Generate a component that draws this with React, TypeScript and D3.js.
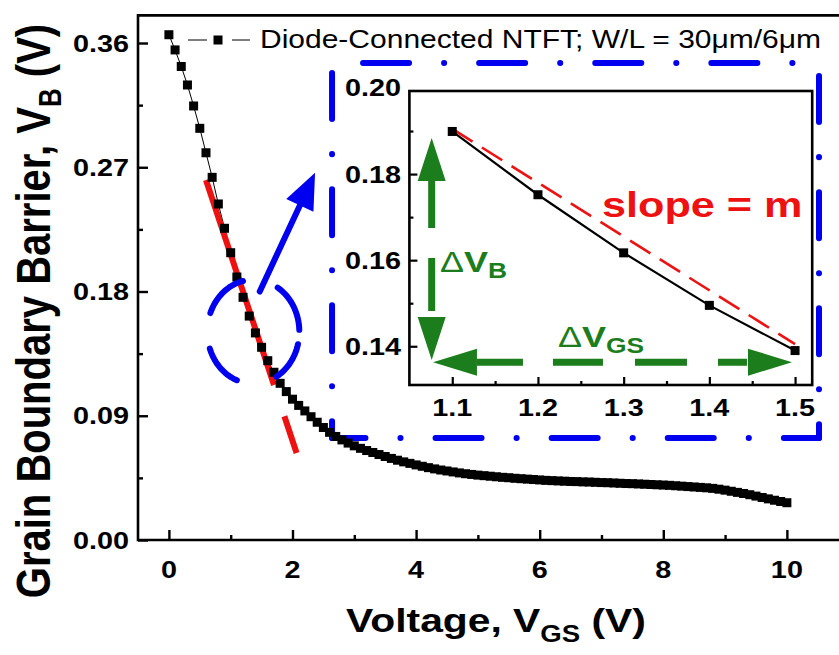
import { useRef, useEffect } from 'react';
import * as d3 from 'd3';

const W = 839;
const H = 655;
const FONT = '"Liberation Sans", Arial, Helvetica, sans-serif';
const SX = 1.2; // the source glyphs are stretched sideways
const BLUE = '#0000f0';
const RED = '#ee1111';
const GREEN = '#1b7d1b';

// gate sweep, V_GS (V)
const VGS = [
  0, 0.1, 0.2, 0.3, 0.4, 0.5, 0.6, 0.7, 0.8, 0.9,
  1.0, 1.1, 1.2, 1.3, 1.4, 1.5, 1.6, 1.7, 1.8, 1.9,
  2.0, 2.1, 2.2, 2.3, 2.4, 2.5, 2.6, 2.7, 2.8, 2.9,
  3.0, 3.1, 3.2, 3.3, 3.4, 3.5, 3.6, 3.7, 3.8, 3.9,
  4.0, 4.1, 4.2, 4.3, 4.4, 4.5, 4.6, 4.7, 4.8, 4.9,
  5.0, 5.1, 5.2, 5.3, 5.4, 5.5, 5.6, 5.7, 5.8, 5.9,
  6.0, 6.1, 6.2, 6.3, 6.4, 6.5, 6.6, 6.7, 6.8, 6.9,
  7.0, 7.1, 7.2, 7.3, 7.4, 7.5, 7.6, 7.7, 7.8, 7.9,
  8.0, 8.1, 8.2, 8.3, 8.4, 8.5, 8.6, 8.7, 8.8, 8.9,
  9.0, 9.1, 9.2, 9.3, 9.4, 9.5, 9.6, 9.7, 9.8, 9.9,
  10.0,
];

// grain boundary barrier, V_B (V)
const VB = [
  0.366, 0.355, 0.343, 0.3296, 0.3144, 0.2982, 0.2805, 0.2627, 0.2434, 0.2258,
  0.2081, 0.1905, 0.1758, 0.1622, 0.15, 0.1396, 0.1299, 0.1215, 0.1135, 0.1075,
  0.102, 0.0975, 0.0935, 0.0893, 0.0853, 0.0815, 0.078, 0.075, 0.0725, 0.0702,
  0.0682, 0.0664, 0.0648, 0.0634, 0.0619, 0.0605, 0.0591, 0.0578, 0.0566, 0.0555,
  0.0544, 0.0534, 0.0524, 0.0515, 0.0507, 0.05, 0.0493, 0.0486, 0.048, 0.0475,
  0.047, 0.0466, 0.0462, 0.0458, 0.0454, 0.0451, 0.0447, 0.0444, 0.0441, 0.0438,
  0.0435, 0.0432, 0.043, 0.0428, 0.0426, 0.0424, 0.0423, 0.0421, 0.042, 0.0418,
  0.0416, 0.0415, 0.0413, 0.0411, 0.0409, 0.0408, 0.0406, 0.0404, 0.0402, 0.04,
  0.0398, 0.0396, 0.0393, 0.039, 0.0387, 0.0384, 0.0381, 0.0378, 0.0374, 0.0368,
  0.0361, 0.0353, 0.0345, 0.0337, 0.0328, 0.0318, 0.0308, 0.0298, 0.0288, 0.0279,
  0.027,
];

const X_MAJOR = [0, 2, 4, 6, 8, 10];
const X_MINOR = [1, 3, 5, 7, 9];
const Y_MAJOR = [0, 0.09, 0.18, 0.27, 0.36];
const Y_MINOR = [0.045, 0.135, 0.225, 0.315];

const INSET_VGS = [1.1, 1.2, 1.3, 1.4, 1.5];
const INSET_VB = [0.1899, 0.1752, 0.1617, 0.1495, 0.139];
const INSET_X_MAJOR = [1.1, 1.2, 1.3, 1.4, 1.5];
const INSET_X_MINOR = [1.15, 1.25, 1.35, 1.45];
const INSET_Y_MAJOR = [0.14, 0.16, 0.18];
const INSET_Y_LABELS = [0.14, 0.16, 0.18, 0.2];
const INSET_Y_MINOR = [0.15, 0.17, 0.19];

// linear fits (V_GS, V_B)
const FIT_MAIN = [[0.6, 0.2608], [2.066, 0.063]];
const FIT_INSET = [[1.1, 0.1905], [1.5, 0.1405]];

// annotations, in data units
const ZOOM_BOX = { v0: 2.64, v1: 10.52, b0: 0.0739, b1: 0.3455 };
const ZOOM_RING = { v: 1.366, b: 0.1509 };
const ZOOM_ARROW = [[1.47, 0.18], [2.365, 0.266]];
const DVB_ARROW = { v: 1.076, b0: 0.1884, b1: 0.1368 };
const DVGS_ARROW = { b: 0.1363, v0: 1.0775, v1: 1.4964 };

function label(g, x, y, size, weight, anchor, fill = '#000', extra = '') {
  return g.append('text')
    .attr('transform', `translate(${x},${y}) scale(${SX},1)${extra}`)
    .attr('font-family', FONT)
    .attr('font-size', size)
    .attr('font-weight', weight)
    .attr('text-anchor', anchor)
    .attr('fill', fill);
}

function arrow(g, x1, y1, x2, y2, o) {
  const L = Math.hypot(x2 - x1, y2 - y1);
  const ux = (x2 - x1) / L, uy = (y2 - y1) / L;
  const nx = -uy, ny = ux;
  const s = o.startHead ? o.head : 0;
  g.append('line')
    .attr('x1', x1 + ux * s).attr('y1', y1 + uy * s)
    .attr('x2', x2 - ux * o.head).attr('y2', y2 - uy * o.head)
    .attr('stroke', o.color).attr('stroke-width', o.width)
    .attr('stroke-linecap', o.cap || 'butt')
    .attr('stroke-dasharray', o.dash || null);
  const tri = (tx, ty, dx, dy) => {
    const bx = tx - dx * o.head, by = ty - dy * o.head;
    g.append('path')
      .attr('d', `M${tx},${ty}L${bx + nx * o.half},${by + ny * o.half}L${bx - nx * o.half},${by - ny * o.half}Z`)
      .attr('fill', o.color);
  };
  tri(x2, y2, ux, uy);
  if (o.startHead) tri(x1, y1, -ux, -uy);
}

function App() {
  const svgRef = useRef(null);

  useEffect(() => {
    const svg = d3.select(svgRef.current);
    svg.selectAll('*').remove();

    const x = d3.scaleLinear().domain([-0.5, 10.85]).range([138, 839.4]);
    const y = d3.scaleLinear().domain([0, 0.38]).range([540, 15.4]);

    const g = svg.append('g');

    // Frame (right side falls outside the picture)
    g.append('path')
      .attr('d', `M${W + 5},${y(0.38)}H${x(-0.5)}V${y(0)}H${W + 5}`)
      .attr('fill', 'none').attr('stroke', '#000').attr('stroke-width', 2.6);

    const ticks = (axisFn, scale, values, size, transform) =>
      g.append('g')
        .attr('transform', transform)
        .call(axisFn(scale).tickValues(values).tickSize(-size).tickFormat(() => ''))
        .call(s => s.select('.domain').remove())
        .call(s => s.selectAll('.tick line').attr('stroke', '#000').attr('stroke-width', 2.4));

    ticks(d3.axisBottom, x, X_MAJOR, 10, `translate(0,${y(0)})`);
    ticks(d3.axisBottom, x, X_MINOR, 5, `translate(0,${y(0)})`);
    ticks(d3.axisLeft, y, Y_MAJOR, 10, `translate(${x(-0.5)},0)`);
    ticks(d3.axisLeft, y, Y_MINOR, 5, `translate(${x(-0.5)},0)`);

    X_MAJOR.forEach(v => {
      label(g, x(v), 578, 24, 'bold', 'middle').text(d3.format('d')(v));
    });
    Y_MAJOR.forEach(v => {
      label(g, 129, y(v) + 8.5, 24, 'bold', 'end').text(d3.format('.2f')(v));
    });

    // Axis titles
    const xt = label(g, 496, 632, 34, 'bold', 'middle');
    xt.append('tspan').text('Voltage, V');
    xt.append('tspan').attr('font-size', 23).attr('dy', 10).text('GS');
    xt.append('tspan').attr('dy', -10).text(' (V)');

    const yt = g.append('text')
      .attr('transform', `translate(50,311) scale(${SX},1) rotate(-90)`)
      .attr('font-family', FONT).attr('font-size', 40).attr('font-weight', 'bold')
      .attr('text-anchor', 'middle');
    yt.append('tspan').text('Grain Boundary Barrier, V');
    yt.append('tspan').attr('font-size', 26).attr('dy', 9).text('B');
    yt.append('tspan').attr('dy', -9).text(' (V)');

    // Dash-dot zoom box
    const bx0 = x(ZOOM_BOX.v0), bx1 = x(ZOOM_BOX.v1);
    const by0 = y(ZOOM_BOX.b1), by1 = y(ZOOM_BOX.b0);
    const P = 116.1;
    [
      [bx0, by0, bx1, by0, P - 31],
      [bx1, by0, bx1, by1, P - 13],
      [bx0, by1, bx1, by1, 12.6],
      [bx0, by0, bx0, by1, P - 10],
    ].forEach(([a, b, c, d, off]) => {
      g.append('line')
        .attr('x1', a).attr('y1', b).attr('x2', c).attr('y2', d)
        .attr('stroke', BLUE).attr('stroke-width', 6)
        .attr('stroke-linecap', 'round')
        .attr('stroke-dasharray', '46,35,0.1,35')
        .attr('stroke-dashoffset', off);
    });

    // Main curve
    const pts = VGS.map((v, i) => [v, VB[i]]);
    g.append('path')
      .datum(pts)
      .attr('d', d3.line().x(d => x(d[0])).y(d => y(d[1])))
      .attr('fill', 'none').attr('stroke', '#000').attr('stroke-width', 1);

    g.append('path')
      .datum(FIT_MAIN)
      .attr('d', d3.line().x(d => x(d[0])).y(d => y(d[1])))
      .attr('fill', 'none').attr('stroke', RED).attr('stroke-width', 6)
      .attr('stroke-dasharray', '216,33,39');

    g.selectAll('.pt')
      .data(pts)
      .join('rect')
      .attr('class', 'pt')
      .attr('x', d => x(d[0]) - 4.5)
      .attr('y', d => y(d[1]) - 4.5)
      .attr('width', 9).attr('height', 9)
      .attr('fill', '#000');

    // Dashed ring and arrow toward the inset
    const cx = x(ZOOM_RING.v), cy = y(ZOOM_RING.b);
    const rx = 46, ry = 52;
    [[201, 257], [302, 358], [374, 421], [471, 521]].forEach(([a0, a1]) => {
      const arc = d3.range(a0, a1 + 0.5, 2).map(a => {
        const t = (a * Math.PI) / 180;
        return [cx + rx * Math.cos(t), cy + ry * Math.sin(t)];
      });
      g.append('path')
        .attr('d', d3.line()(arc))
        .attr('fill', 'none').attr('stroke', BLUE).attr('stroke-width', 6)
        .attr('stroke-linecap', 'round');
    });
    arrow(g, x(ZOOM_ARROW[0][0]), y(ZOOM_ARROW[0][1]), x(ZOOM_ARROW[1][0]), y(ZOOM_ARROW[1][1]),
      { color: BLUE, width: 6, head: 36, half: 15, cap: 'round' });

    // Legend
    const lgY = 40;
    g.append('line').attr('x1', 188).attr('x2', 207).attr('y1', lgY).attr('y2', lgY)
      .attr('stroke', '#000').attr('stroke-width', 1);
    g.append('line').attr('x1', 232).attr('x2', 250).attr('y1', lgY).attr('y2', lgY)
      .attr('stroke', '#000').attr('stroke-width', 1);
    g.append('rect').attr('x', 218 - 4.5).attr('y', lgY - 4.5).attr('width', 9).attr('height', 9)
      .attr('fill', '#000');
    label(g, 260, 48, 25, 'normal', 'start').text('Diode-Connected NTFT; W/L = 30\u03bcm/6\u03bcm');

    // Inset
    const ix = d3.scaleLinear().domain([1.05, 1.52]).range([409.4, 812.2]);
    const iy = d3.scaleLinear().domain([0.131, 0.1993]).range([385, 91]);
    const ins = g.append('g');
    ins.append('rect')
      .attr('x', ix(1.05)).attr('y', iy(0.1993))
      .attr('width', ix(1.52) - ix(1.05)).attr('height', iy(0.131) - iy(0.1993))
      .attr('fill', '#fff').attr('stroke', '#000').attr('stroke-width', 2.6);

    const iticks = (axisFn, scale, values, size, transform) =>
      ins.append('g')
        .attr('transform', transform)
        .call(axisFn(scale).tickValues(values).tickSize(-size).tickFormat(() => ''))
        .call(s => s.select('.domain').remove())
        .call(s => s.selectAll('.tick line').attr('stroke', '#000').attr('stroke-width', 2.2));

    iticks(d3.axisBottom, ix, INSET_X_MAJOR, 8, `translate(0,${iy(0.131)})`);
    iticks(d3.axisBottom, ix, INSET_X_MINOR, 4, `translate(0,${iy(0.131)})`);
    iticks(d3.axisLeft, iy, INSET_Y_MAJOR, 8, `translate(${ix(1.05)},0)`);
    iticks(d3.axisLeft, iy, INSET_Y_MINOR, 4, `translate(${ix(1.05)},0)`);

    INSET_X_MAJOR.forEach(v => {
      label(ins, ix(v), 416, 24, 'bold', 'middle').text(d3.format('.1f')(v));
    });
    INSET_Y_LABELS.forEach(v => {
      label(ins, 401, iy(v) + 8.5, 24, 'bold', 'end').text(d3.format('.2f')(v));
    });

    const ipts = INSET_VGS.map((v, i) => [v, INSET_VB[i]]);
    ins.append('path')
      .datum(ipts)
      .attr('d', d3.line().x(d => ix(d[0])).y(d => iy(d[1])))
      .attr('fill', 'none').attr('stroke', '#000').attr('stroke-width', 2.2);
    ins.append('path')
      .datum(FIT_INSET)
      .attr('d', d3.line().x(d => ix(d[0])).y(d => iy(d[1])))
      .attr('fill', 'none').attr('stroke', RED).attr('stroke-width', 2.6)
      .attr('stroke-dasharray', '24,11');
    ins.selectAll('.ipt')
      .data(ipts)
      .join('rect')
      .attr('class', 'ipt')
      .attr('x', d => ix(d[0]) - 4.5)
      .attr('y', d => iy(d[1]) - 4.5)
      .attr('width', 9).attr('height', 9)
      .attr('fill', '#000');

    // Delta arrows
    arrow(ins, ix(DVB_ARROW.v), iy(DVB_ARROW.b0), ix(DVB_ARROW.v), iy(DVB_ARROW.b1),
      { color: GREEN, width: 7, head: 43, half: 14, startHead: true, dash: '47,30,53,10' });
    arrow(ins, ix(DVGS_ARROW.v0), iy(DVGS_ARROW.b), ix(DVGS_ARROW.v1), iy(DVGS_ARROW.b),
      { color: GREEN, width: 7, head: 44, half: 13.5, startHead: true, dash: '46,30,50,32,52,31,29' });

    const dvb = label(ins, 440, 272, 30, 'bold', 'start', GREEN);
    dvb.append('tspan').attr('font-weight', 'normal').text('\u0394');
    dvb.append('tspan').text('V');
    dvb.append('tspan').attr('font-size', 22).attr('dy', 6).text('B');

    const dvgs = label(ins, 558, 347, 30, 'bold', 'start', GREEN);
    dvgs.append('tspan').attr('font-weight', 'normal').text('\u0394');
    dvgs.append('tspan').text('V');
    dvgs.append('tspan').attr('font-size', 22).attr('dy', 6).text('GS');

    label(ins, 602, 217, 36, 'bold', 'start', RED).text('slope = m');
  }, []);

  return (
    <svg
      ref={svgRef}
      width={W}
      height={H}
      style={{ position: 'absolute', left: 0, top: 0, background: '#fff', display: 'block' }}
    />
  );
}

export default App;
